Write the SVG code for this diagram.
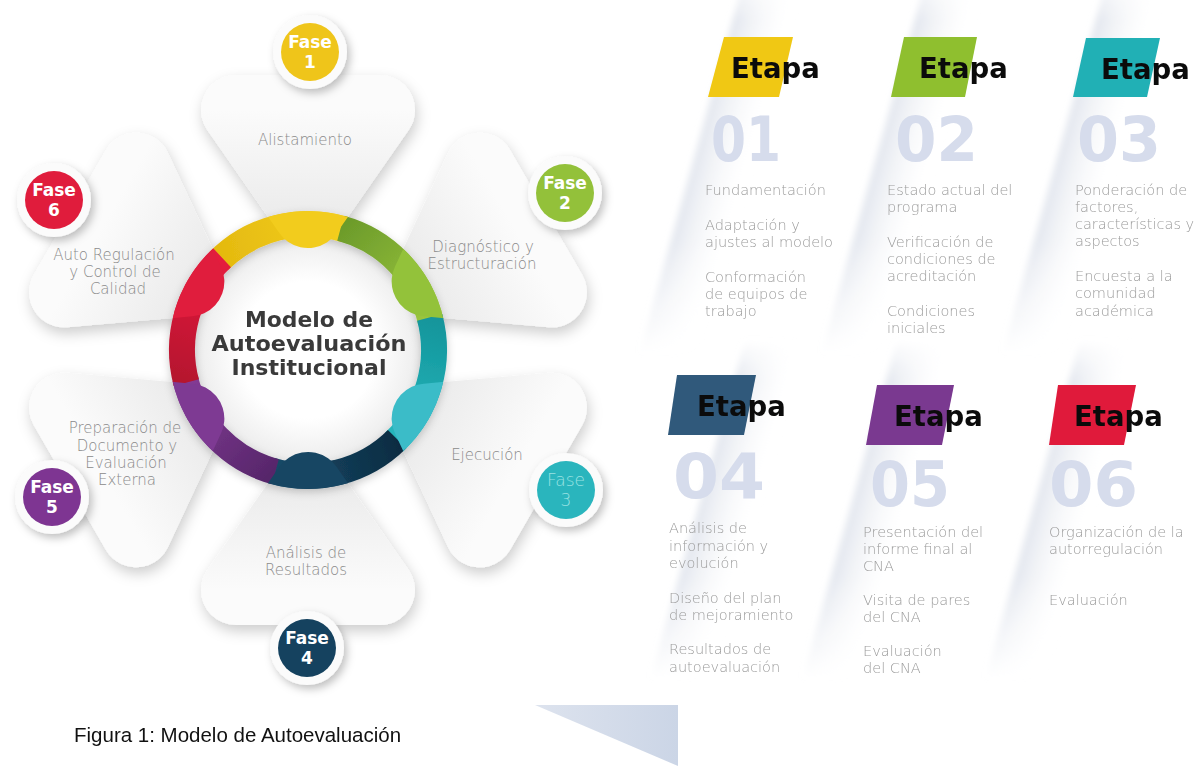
<svg xmlns="http://www.w3.org/2000/svg" width="1200" height="766" viewBox="0 0 1200 766">
<defs>
<style>
.lbl{font-family:"DejaVu Sans","Open Sans",sans-serif;font-weight:200;font-size:15px;fill:#8a8a8a;text-anchor:middle}
.item{font-family:"DejaVu Sans","Open Sans",sans-serif;font-weight:200;font-size:14.5px;fill:#9c9c9c}
.etapa{font-family:"DejaVu Sans","Open Sans",sans-serif;font-weight:bold;font-size:27.5px;fill:#0b0b0b}
.num{font-family:"DejaVu Sans","Open Sans",sans-serif;font-weight:bold;font-size:62px;fill:#d6dcec}
.fase{font-family:"DejaVu Sans","Open Sans",sans-serif;font-weight:bold;font-size:17px;fill:#ffffff;text-anchor:middle}
.fase3{font-family:"DejaVu Sans","Open Sans",sans-serif;font-weight:200;font-size:17px;fill:#9ae2e2;text-anchor:middle}
.title{font-family:"DejaVu Sans","Open Sans",sans-serif;font-weight:bold;font-size:20.5px;fill:#3a3a3a;text-anchor:middle}
.cap{font-family:"Liberation Sans",Arial,sans-serif;font-size:20.5px;fill:#111111}
.seg{fill:none;stroke-width:26}
</style>
<polygon id="petal" points="-72,-240 72,-240 0,-137" stroke-width="70" stroke-linejoin="round"/>
<linearGradient id="petalG" x1="0" y1="0" x2="0" y2="1">
<stop offset="0" stop-color="#fbfbfb"/><stop offset="1" stop-color="#ececec"/>
</linearGradient>
<radialGradient id="innerG" cx="0.5" cy="0.5" r="0.5">
<stop offset="0.6" stop-color="#ffffff"/><stop offset="1" stop-color="#ececec"/>
</radialGradient>
<filter id="sh" filterUnits="userSpaceOnUse" x="-50" y="-50" width="1300" height="866">
<feDropShadow dx="2" dy="6" stdDeviation="7" flood-color="#000" flood-opacity="0.2"/>
</filter>
<filter id="shc" x="-40%" y="-40%" width="180%" height="180%">
<feDropShadow dx="3" dy="4" stdDeviation="4" flood-color="#000" flood-opacity="0.25"/>
</filter>
<filter id="shr" filterUnits="userSpaceOnUse" x="100" y="150" width="420" height="420">
<feDropShadow dx="0" dy="3" stdDeviation="4" flood-color="#000" flood-opacity="0.2"/>
</filter>
<filter id="soft" x="-20%" y="-5%" width="140%" height="110%"><feGaussianBlur stdDeviation="3"/></filter>
<clipPath id="ringClip"><circle cx="308" cy="350" r="139"/></clipPath>
<linearGradient id="gY" gradientUnits="userSpaceOnUse" x1="218.9" y1="260.9" x2="340.6" y2="228.3"><stop offset="0" stop-color="#e4b90f"/><stop offset="1" stop-color="#f3cf1f"/></linearGradient>
<linearGradient id="gG" gradientUnits="userSpaceOnUse" x1="340.6" y1="228.3" x2="429.7" y2="317.4"><stop offset="0" stop-color="#6c9b2b"/><stop offset="1" stop-color="#9cc63d"/></linearGradient>
<linearGradient id="gT" gradientUnits="userSpaceOnUse" x1="429.7" y1="317.4" x2="397.1" y2="439.1"><stop offset="0" stop-color="#12959b"/><stop offset="1" stop-color="#27b7bd"/></linearGradient>
<linearGradient id="gN" gradientUnits="userSpaceOnUse" x1="397.1" y1="439.1" x2="275.4" y2="471.7"><stop offset="0" stop-color="#0c2c42"/><stop offset="1" stop-color="#184a68"/></linearGradient>
<linearGradient id="gP" gradientUnits="userSpaceOnUse" x1="275.4" y1="471.7" x2="186.3" y2="382.6"><stop offset="0" stop-color="#56266a"/><stop offset="1" stop-color="#843b95"/></linearGradient>
<linearGradient id="gR" gradientUnits="userSpaceOnUse" x1="186.3" y1="382.6" x2="218.9" y2="260.9"><stop offset="0" stop-color="#b5122e"/><stop offset="1" stop-color="#e41e3e"/></linearGradient>
<linearGradient id="stripeG" x1="0" y1="0" x2="1" y2="0">
<stop offset="0" stop-color="#e2e6ee"/><stop offset="0.4" stop-color="#eff1f5" stop-opacity="0.7"/><stop offset="1" stop-color="#ffffff" stop-opacity="0"/>
</linearGradient>
<linearGradient id="vfadeG" x1="0" y1="0" x2="0" y2="1">
<stop offset="0" stop-color="#000"/><stop offset="0.12" stop-color="#fff"/><stop offset="0.7" stop-color="#fff"/><stop offset="1" stop-color="#000"/>
</linearGradient>
<mask id="vfade" maskContentUnits="objectBoundingBox"><rect width="1" height="1" fill="url(#vfadeG)"/></mask>
<linearGradient id="triG" x1="0" y1="0" x2="1" y2="0"><stop offset="0" stop-color="#dde3ee"/><stop offset="1" stop-color="#cbd5e6"/></linearGradient>
</defs>
<rect width="1200" height="766" fill="#ffffff"/>

<g id="background-stripes" filter="url(#soft)">
<rect x="0" y="0" width="60" height="380" transform="translate(745,-25) skewX(-15.6)" fill="url(#stripeG)" mask="url(#vfade)"/>
<rect x="0" y="0" width="60" height="380" transform="translate(927,-25) skewX(-15.6)" fill="url(#stripeG)" mask="url(#vfade)"/>
<rect x="0" y="0" width="60" height="380" transform="translate(1108,-25) skewX(-15.6)" fill="url(#stripeG)" mask="url(#vfade)"/>
<rect x="0" y="0" width="60" height="340" transform="translate(745,340) skewX(-15.6)" fill="url(#stripeG)" mask="url(#vfade)"/>
<rect x="0" y="0" width="60" height="340" transform="translate(897,340) skewX(-15.6)" fill="url(#stripeG)" mask="url(#vfade)"/>
<rect x="0" y="0" width="60" height="340" transform="translate(1080,340) skewX(-15.6)" fill="url(#stripeG)" mask="url(#vfade)"/>
</g>
<polygon points="535,705 678,705 678,766" fill="url(#triG)"/>

<g id="fase-1">
<g filter="url(#sh)"><use href="#petal" transform="translate(308,350)" fill="url(#petalG)" stroke="url(#petalG)"/></g>
<text class="lbl" x="305" y="145">Alistamiento</text>
<g filter="url(#shc)"><circle cx="310" cy="52" r="37" fill="#fbfbfb"/></g>
<circle cx="310" cy="52" r="29" fill="#efc51a"/>
<text class="fase" x="310" y="48">Fase</text><text class="fase" x="310" y="68">1</text>
</g>

<g id="fase-2">
<g filter="url(#sh)"><use href="#petal" transform="translate(308,350) rotate(60)" fill="url(#petalG)" stroke="url(#petalG)"/></g>
<text class="lbl" x="483" y="252">Diagnóstico y</text>
<text class="lbl" x="482" y="269">Estructuración</text>
<g filter="url(#shc)"><circle cx="565" cy="193" r="37" fill="#fbfbfb"/></g>
<circle cx="565" cy="193" r="29" fill="#93c13a"/>
<text class="fase" x="565" y="189">Fase</text><text class="fase" x="565" y="209">2</text>
</g>

<g id="fase-3">
<g filter="url(#sh)"><use href="#petal" transform="translate(308,350) rotate(120)" fill="url(#petalG)" stroke="url(#petalG)"/></g>
<text class="lbl" x="487" y="460">Ejecución</text>
<g filter="url(#shc)"><circle cx="566" cy="490" r="37" fill="#fbfbfb"/></g>
<circle cx="566" cy="490" r="29" fill="#2ab5bd"/>
<text class="fase3" x="566" y="486">Fase</text><text class="fase3" x="566" y="506">3</text>
</g>

<g id="fase-4">
<g filter="url(#sh)"><use href="#petal" transform="translate(308,350) rotate(180)" fill="url(#petalG)" stroke="url(#petalG)"/></g>
<text class="lbl" x="306" y="558">Análisis de</text>
<text class="lbl" x="306" y="575">Resultados</text>
<g filter="url(#shc)"><circle cx="307" cy="648" r="37" fill="#fbfbfb"/></g>
<circle cx="307" cy="648" r="29" fill="#15425f"/>
<text class="fase" x="307" y="644">Fase</text><text class="fase" x="307" y="664">4</text>
</g>

<g id="fase-5">
<g filter="url(#sh)"><use href="#petal" transform="translate(308,350) rotate(240)" fill="url(#petalG)" stroke="url(#petalG)"/></g>
<text class="lbl" x="125" y="433">Preparación de</text>
<text class="lbl" x="127" y="451">Documento y</text>
<text class="lbl" x="126" y="468">Evaluación</text>
<text class="lbl" x="127" y="485">Externa</text>
<g filter="url(#shc)"><circle cx="52" cy="497" r="37" fill="#fbfbfb"/></g>
<circle cx="52" cy="497" r="29" fill="#7e3592"/>
<text class="fase" x="52" y="493">Fase</text><text class="fase" x="52" y="513">5</text>
</g>

<g id="fase-6">
<g filter="url(#sh)"><use href="#petal" transform="translate(308,350) rotate(300)" fill="url(#petalG)" stroke="url(#petalG)"/></g>
<text class="lbl" x="114" y="260">Auto Regulación</text>
<text class="lbl" x="115" y="277">y Control de</text>
<text class="lbl" x="118" y="294">Calidad</text>
<g filter="url(#shc)"><circle cx="54" cy="200" r="37" fill="#fbfbfb"/></g>
<circle cx="54" cy="200" r="29" fill="#e01c3c"/>
<text class="fase" x="54" y="196">Fase</text><text class="fase" x="54" y="216">6</text>
</g>

<g id="center-ring">
<circle cx="308" cy="350" r="114" fill="url(#innerG)"/>
<g filter="url(#shr)">
<path class="seg" stroke="url(#gY)" d="M218.9,260.9 A126,126 0 0 1 344.8,229.5"/>
<path class="seg" stroke="url(#gG)" d="M340.6,228.3 A126,126 0 0 1 430.8,321.65"/>
<path class="seg" stroke="url(#gT)" d="M429.7,317.4 A126,126 0 0 1 393.9,442.2"/>
<path class="seg" stroke="url(#gN)" d="M397.1,439.1 A126,126 0 0 1 271.2,470.5"/>
<path class="seg" stroke="url(#gP)" d="M275.4,471.7 A126,126 0 0 1 185.2,378.35"/>
<path class="seg" stroke="url(#gR)" d="M186.3,382.6 A126,126 0 0 1 222.1,257.8"/>
</g>
<g clip-path="url(#ringClip)">
<use href="#petal" transform="translate(308,350)" fill="#f2cc1d" stroke="#f2cc1d"/>
<use href="#petal" transform="translate(308,350) rotate(60)" fill="#93c23a" stroke="#93c23a"/>
<use href="#petal" transform="translate(308,350) rotate(120)" fill="#3bbcc8" stroke="#3bbcc8"/>
<use href="#petal" transform="translate(308,350) rotate(180)" fill="#174663" stroke="#174663"/>
<use href="#petal" transform="translate(308,350) rotate(240)" fill="#7e3a93" stroke="#7e3a93"/>
<use href="#petal" transform="translate(308,350) rotate(300)" fill="#e01d3d" stroke="#e01d3d"/>
</g>
<text class="title" x="309" y="327" textLength="128" lengthAdjust="spacingAndGlyphs">Modelo de</text>
<text class="title" x="309" y="351" textLength="195" lengthAdjust="spacingAndGlyphs">Autoevaluación</text>
<text class="title" x="309" y="375" textLength="155" lengthAdjust="spacingAndGlyphs">Institucional</text>
</g>

<g id="etapa-01">
<polygon points="724,37 793,37 779,97 708,97" fill="#f0c814"/>
<text class="etapa" x="731" y="78">Etapa</text>
<text class="num" x="711" y="161" textLength="70" lengthAdjust="spacingAndGlyphs">01</text>
<text class="item" x="705" y="195">Fundamentación</text>
<text class="item" x="705" y="230">Adaptación y</text>
<text class="item" x="705" y="247">ajustes al modelo</text>
<text class="item" x="705" y="282">Conformación</text>
<text class="item" x="705" y="299">de equipos de</text>
<text class="item" x="705" y="316">trabajo</text>
</g>

<g id="etapa-02">
<polygon points="904,37 977,37 965,97 891,97" fill="#8fbf2f"/>
<text class="etapa" x="919" y="78">Etapa</text>
<text class="num" x="895" y="161" textLength="83" lengthAdjust="spacingAndGlyphs">02</text>
<text class="item" x="887" y="195">Estado actual del</text>
<text class="item" x="887" y="212">programa</text>
<text class="item" x="887" y="247">Verificación de</text>
<text class="item" x="887" y="264">condiciones de</text>
<text class="item" x="887" y="281">acreditación</text>
<text class="item" x="887" y="316">Condiciones</text>
<text class="item" x="887" y="333">iniciales</text>
</g>

<g id="etapa-03">
<polygon points="1086,38 1160,38 1147,97 1073,97" fill="#21b0b5"/>
<text class="etapa" x="1101" y="79">Etapa</text>
<text class="num" x="1077" y="161" textLength="84" lengthAdjust="spacingAndGlyphs">03</text>
<text class="item" x="1075" y="195">Ponderación de</text>
<text class="item" x="1075" y="212">factores,</text>
<text class="item" x="1075" y="229">características y</text>
<text class="item" x="1075" y="246">aspectos</text>
<text class="item" x="1075" y="281">Encuesta a la</text>
<text class="item" x="1075" y="298">comunidad</text>
<text class="item" x="1075" y="316">académica</text>
</g>

<g id="etapa-04">
<polygon points="677,375 756,375 744,435 668,435" fill="#30597b"/>
<text class="etapa" x="697" y="416">Etapa</text>
<text class="num" x="673" y="498" textLength="92" lengthAdjust="spacingAndGlyphs">04</text>
<text class="item" x="669" y="533">Análisis de</text>
<text class="item" x="669" y="551">información y</text>
<text class="item" x="669" y="568">evolución</text>
<text class="item" x="669" y="603">Diseño del plan</text>
<text class="item" x="669" y="620">de mejoramiento</text>
<text class="item" x="669" y="654">Resultados de</text>
<text class="item" x="669" y="672">autoevaluación</text>
</g>

<g id="etapa-05">
<polygon points="877,385 954,385 942,445 866,445" fill="#7a3990"/>
<text class="etapa" x="894" y="426">Etapa</text>
<text class="num" x="870" y="506" textLength="80" lengthAdjust="spacingAndGlyphs">05</text>
<text class="item" x="863" y="537">Presentación del</text>
<text class="item" x="863" y="554">informe final al</text>
<text class="item" x="863" y="571">CNA</text>
<text class="item" x="863" y="605">Visita de pares</text>
<text class="item" x="863" y="622">del CNA</text>
<text class="item" x="863" y="656">Evaluación</text>
<text class="item" x="863" y="673">del CNA</text>
</g>

<g id="etapa-06">
<polygon points="1058,385 1136,385 1124,445 1049,445" fill="#e01a3b"/>
<text class="etapa" x="1074" y="426">Etapa</text>
<text class="num" x="1049" y="506" textLength="89" lengthAdjust="spacingAndGlyphs">06</text>
<text class="item" x="1049" y="537">Organización de la</text>
<text class="item" x="1049" y="554">autorregulación</text>
<text class="item" x="1049" y="605">Evaluación</text>
</g>

<text class="cap" x="74" y="742">Figura 1: Modelo de Autoevaluación</text>
</svg>
